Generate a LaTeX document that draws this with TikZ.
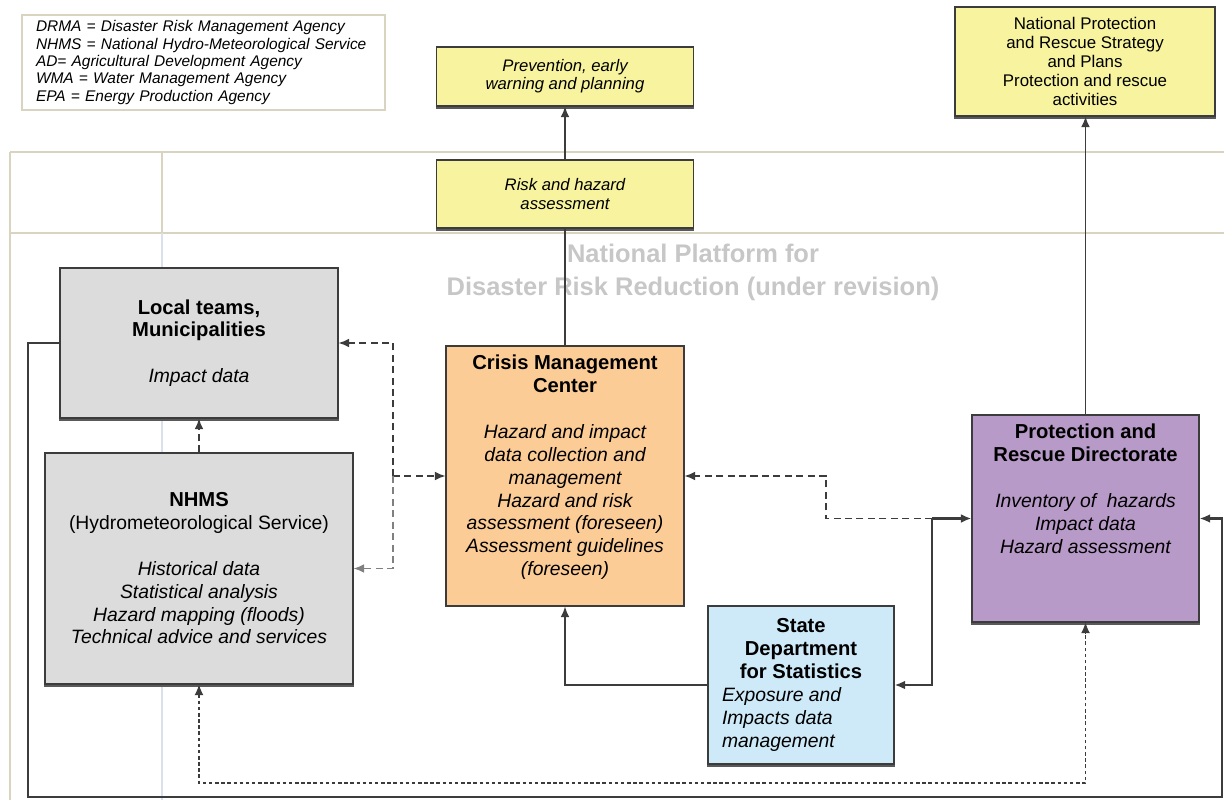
\documentclass[tikz,border=0pt]{standalone}
\usepackage{fontspec}
\setmainfont{Liberation Sans}
\usetikzlibrary{arrows.meta}

\definecolor{boxgray}{RGB}{220,220,220}
\definecolor{boxorange}{RGB}{252,204,150}
\definecolor{boxblue}{RGB}{206,234,248}
\definecolor{boxpurple}{RGB}{184,154,200}
\definecolor{boxyellow}{RGB}{247,243,158}
\definecolor{lanecol}{RGB}{216,212,192}
\definecolor{lanelow}{RGB}{218,224,236}
\definecolor{edgecol}{RGB}{60,60,60}

\newlength\px \setlength\px{0.02cm}
\newcommand\boxtitle{\fontsize{11.5}{12.5}\selectfont\upshape\bfseries}
\newcommand\boxbody{\fontsize{11}{13}\selectfont\itshape}
\newcommand\sideline[1]{\makebox[158\px][l]{#1}}

\begin{document}
\begin{tikzpicture}[x=0.02cm, y=-0.02cm,
    mybox/.style={draw=edgecol, line width=0.6pt, align=center, inner sep=0pt, font=\boxbody},
    lowedge/.style={mybox,
        append after command={%
            \pgfextra \draw[edgecol!85, line width=1.6pt]
                ([yshift=-0.5pt]\tikzlastnode.south west) -- ([yshift=-0.5pt]\tikzlastnode.south east); \endpgfextra}},
    ybox/.style={lowedge, fill=boxyellow, minimum width=257\px,
        font=\fontsize{9.5}{10.4}\selectfont\itshape,
        append after command={%
            \pgfextra \draw[edgecol, line width=0.6pt]
                ([xshift=33\px]\tikzlastnode.north west) -- ([xshift=33\px]\tikzlastnode.south west)
                ([xshift=-33\px]\tikzlastnode.north east) -- ([xshift=-33\px]\tikzlastnode.south east); \endpgfextra}},
    conn/.style={draw=edgecol, line width=0.9pt},
    dconn/.style={draw=edgecol, line width=0.9pt, dash pattern=on 4pt off 2.5pt},
    arrowend/.style={-{Latex[length=6pt,width=5pt]}},
    ]
\useasboundingbox (0,0) rectangle (1224,800);

% swimlane frame
\draw[lanecol, line width=1.6pt] (10,152) -- (1224,152) (10,233) -- (1224,233);
\draw[lanecol, line width=1pt] (10,152) -- (10,800) (162,152) -- (162,233);
\draw[lanelow, line width=1pt] (162,233) -- (162,800);

% legend
\node[draw=lanecol, line width=0.8pt, minimum width=363\px, minimum height=95\px,
    align=left, text width=335\px, inner sep=0pt,
    font=\fontsize{8.8}{9.9}\selectfont\itshape] (legend) at (203.5,62.5)
    {DRMA = Disaster Risk Management Agency\\
     NHMS = National Hydro-Meteorological Service\\
     AD= Agricultural Development Agency\\
     WMA = Water Management Agency\\
     EPA = Energy Production Agency};

\node[font=\fontsize{14.5}{18.7}\selectfont\bfseries, text=black!22, align=center] (platform)
    at (693,272) {National Platform for\\Disaster Risk Reduction (under revision)};

% boxes
\node[ybox, minimum height=59\px] (prevent) at (565,76.5) {Prevention, early\\warning and planning};
\node[ybox, minimum height=68\px] (riskas) at (565,194) {Risk and hazard\\assessment};
\node[ybox, minimum width=260\px, minimum height=109\px,
    font=\fontsize{9.6}{10.8}\selectfont] (natplan) at (1085,61.5)
    {National Protection\\and Rescue Strategy\\and Plans\\Protection and rescue\\activities};

\node[lowedge, fill=boxgray, minimum width=278\px, minimum height=150\px] (local) at (199,343)
    {{\boxtitle Local teams,}\\{\boxtitle Municipalities}\\[13pt]Impact data};
\node[lowedge, fill=boxgray, minimum width=308\px, minimum height=231\px] (nhms) at (199,568.5)
    {{\boxtitle NHMS}\\{\upshape (Hydrometeorological Service)}\\[13pt]Historical data\\
     Statistical analysis\\Hazard mapping (floods)\\Technical advice and services};
\node[mybox, fill=boxorange, minimum width=238\px, minimum height=260\px] (cmc) at (565,476)
    {{\boxtitle Crisis Management}\\{\boxtitle Center}\\[13pt]Hazard and impact\\
     data collection and\\management\\Hazard and risk\\assessment (foreseen)\\
     Assessment guidelines\\(foreseen)\\[-1pt]\mbox{}};
\node[lowedge, fill=boxblue, minimum width=186\px, minimum height=158\px] (stat) at (801,685)
    {{\boxtitle State}\\{\boxtitle Department}\\{\boxtitle for Statistics}\\
     \sideline{Exposure and}\\\sideline{Impacts data}\\\sideline{management}};
\node[lowedge, fill=boxpurple, minimum width=227\px, minimum height=207\px] (prd) at (1085.5,518.5)
    {{\boxtitle Protection and}\\{\boxtitle Rescue Directorate}\\[13pt]Inventory of \ hazards\\
     Impact data\\Hazard assessment\\[21pt]\mbox{}};

% connectors
\coordinate (jleft) at (393,476);
\coordinate (jright) at (932,518.5);
\coordinate (jmid) at (826,518.5);
\coordinate (loopb) at (0,783);
\coordinate (outl) at (28,797);
\coordinate (outr) at (1222,797);

\draw[conn] (cmc.north) -- (riskas.south);
\draw[conn, arrowend] (riskas.north) -- (prevent.south);
\draw[conn, arrowend] (prd.north) -- (prd.north |- natplan.south);

\draw[dconn, arrowend] (jleft) -- (cmc.west);
\draw[dconn, arrowend] (jleft) |- (local.east);
\draw[dconn, draw=gray, arrowend] (jleft) |- (nhms.east);
\draw[dconn, arrowend] (nhms.north) -- (local.south);
\draw[dconn, line width=0.6pt, dash pattern=on 2pt off 1.5pt,
    {Latex[length=6pt,width=5pt]}-{Latex[length=6pt,width=5pt]}]
    (nhms.south) -- (nhms.south |- loopb) -| (prd.south);

\draw[conn, line width=1.2pt, arrowend] (jright) -- (prd.west);
\draw[conn, line width=1.2pt, arrowend] (jright) |- (stat.east);
\draw[dconn, arrowend] (jright) -- (jmid) |- (cmc.east);
\draw[conn, arrowend] (stat.west) -| (cmc.south);
\draw[conn, line width=1.4pt, arrowend] (local.west) -| (outl) -- (outr) |- (prd.east);
\end{tikzpicture}
\end{document}
